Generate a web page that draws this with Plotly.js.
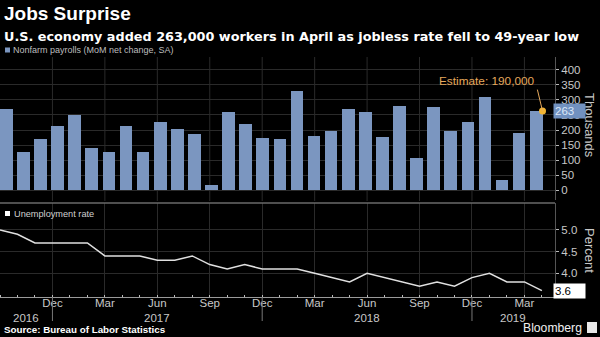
<!DOCTYPE html>
<html><head><meta charset="utf-8">
<script src="https://cdn.plot.ly/plotly-3.0.1.min.js"></script>
<style>html,body{margin:0;padding:0;background:#000;}#chart{width:600px;height:337px;}</style>
</head><body><div id="chart"></div>
<script>
// ---- data ----
const months = ['Sep 2016','Oct 2016','Nov 2016','Dec 2016',
  'Jan 2017','Feb 2017','Mar 2017','Apr 2017','May 2017','Jun 2017','Jul 2017','Aug 2017','Sep 2017','Oct 2017','Nov 2017','Dec 2017',
  'Jan 2018','Feb 2018','Mar 2018','Apr 2018','May 2018','Jun 2018','Jul 2018','Aug 2018','Sep 2018','Oct 2018','Nov 2018','Dec 2018',
  'Jan 2019','Feb 2019','Mar 2019','Apr 2019'];
const payrolls = [269,128,169,214, 251,141,126,212,128,228,202,186,18,259,219,172,
  171,329,181,197,269,261,178,281,108,276,197,226, 311,33,189,263];
const unemployment = [5.0,4.9,4.7,4.7, 4.7,4.7,4.4,4.4,4.4,4.3,4.3,4.4,4.2,4.1,4.2,4.1,
  4.1,4.1,4.0,3.9,3.8,4.0,3.9,3.8,3.7,3.8,3.7,3.9, 4.0,3.8,3.8,3.6];
const quarterTickIdx = [3,6,9,12,15,18,21,24,27,30];
const quarterTickText = ['Dec','Mar','Jun','Sep','Dec','Mar','Jun','Sep','Dec','Mar'];
const yearLabels = ['2016','2017','2018','2019'];
const yearBoundaryIdx = [3,15,27];
const payrollTicks = [0,50,100,150,200,250,300,350,400];
const rateTicks = [4.0,4.5,5.0];
const estimateText = 'Estimate: 190,000';

// ---- layout helpers (pixel -> paper) ----
const L = 0, PW = 555, T = 57, PH = 240;
const px = x => (x - L) / PW;
const py = y => (T + PH - y) / PH;

const idx = months.map((m, i) => i);
const last = idx.length - 1;
const lineMax = 31.75;
const barRange = [-0.3716, 32.10];
const barWidth = 0.74;

const yb = [0].concat(yearBoundaryIdx).concat([lineMax]);
const yearMid = yearLabels.map((y, i) => (yb[i] + yb[i + 1]) / 2);

const font = 'Liberation Sans, Arial, sans-serif';
const tickCol = '#c8c8c8';
const gridCol = '#2a2a2a';

const traces = [
  {type: 'bar', x: idx, y: payrolls, xaxis: 'x', yaxis: 'y', width: barWidth,
   marker: {color: '#7b96c0', line: {width: 0}}, hoverinfo: 'skip'},
  {type: 'scatter', mode: 'markers', x: [last + barWidth / 2], y: [payrolls[last]], xaxis: 'x', yaxis: 'y',
   marker: {color: '#f2b534', size: 7}, hoverinfo: 'skip', cliponaxis: false},
  {type: 'scatter', mode: 'lines', x: idx, y: unemployment, xaxis: 'x2', yaxis: 'y2',
   line: {color: '#e0e0e0', width: 1.5}, hoverinfo: 'skip'}
];

const shapes = [];
quarterTickIdx.forEach(v => shapes.push({type: 'line', xref: 'x2', yref: 'paper', x0: v, x1: v,
  y0: py(201), y1: 1, line: {color: gridCol, width: 1}, layer: 'below'}));
shapes.push({type: 'line', xref: 'paper', yref: 'paper', x0: 0, x1: 1, y0: py(203), y1: py(203),
  line: {color: '#6a6a6a', width: 1.5}});
yearBoundaryIdx.forEach(v => shapes.push({type: 'line', xref: 'x2', yref: 'paper', x0: v, x1: v,
  y0: 0, y1: py(321), line: {color: '#777', width: 1}}));
shapes.push({type: 'rect', xref: 'paper', yref: 'paper', x0: px(5), x1: px(10), y0: py(52.5), y1: py(47.5),
  fillcolor: '#7b96c0', line: {width: 0}});
shapes.push({type: 'rect', xref: 'paper', yref: 'paper', x0: px(5), x1: px(10), y0: py(216), y1: py(211),
  fillcolor: '#ffffff', line: {width: 0}});
shapes.push({type: 'rect', xref: 'paper', yref: 'paper', x0: px(587), x1: px(597), y0: py(333), y1: py(322),
  fillcolor: '#e8e8e8', line: {width: 0}});

const ann = [
  {text: '<b>Jobs Surprise</b>', xref: 'paper', yref: 'paper', x: px(2), y: py(14), xanchor: 'left', yanchor: 'middle',
   showarrow: false, font: {family: font, size: 19, color: '#fff'}},
  {text: '<b>U.S. economy added 263,000 workers in April as jobless rate fell to 49-year low</b>', xref: 'paper', yref: 'paper',
   x: px(2), y: py(36), xanchor: 'left', yanchor: 'middle', showarrow: false, font: {family: 'DejaVu Sans, sans-serif', size: 12.8, color: '#fff'}},
  {text: 'Nonfarm payrolls (MoM net change, SA)', xref: 'paper', yref: 'paper', x: px(11), y: py(50), xanchor: 'left', yanchor: 'middle',
   showarrow: false, font: {family: font, size: 9, color: '#bdbdbd'}},
  {text: 'Unemployment rate', xref: 'paper', yref: 'paper', x: px(12), y: py(213.5), xanchor: 'left', yanchor: 'middle',
   showarrow: false, font: {family: font, size: 9.2, color: '#d0d0d0'}},
  {text: '<b>Source: Bureau of Labor Statistics</b>', xref: 'paper', yref: 'paper', x: px(2), y: py(329), xanchor: 'left', yanchor: 'middle',
   showarrow: false, font: {family: font, size: 9.8, color: '#fff'}},
  {text: 'Bloomberg', xref: 'paper', yref: 'paper', x: px(584), y: py(328), xanchor: 'right', yanchor: 'middle',
   showarrow: false, font: {family: font, size: 12.2, color: '#f0f0f0'}},
  {text: 'Thousands', xref: 'paper', yref: 'paper', x: px(590), y: py(125), xanchor: 'center', yanchor: 'middle', textangle: 90,
   showarrow: false, font: {family: font, size: 13, color: tickCol}},
  {text: 'Percent', xref: 'paper', yref: 'paper', x: px(590), y: py(250), xanchor: 'center', yanchor: 'middle', textangle: 90,
   showarrow: false, font: {family: font, size: 13, color: tickCol}},
  {text: String(payrolls[last]), xref: 'paper', yref: 'y', x: px(553), y: payrolls[last], xanchor: 'left', yanchor: 'middle',
   showarrow: false, width: 29, align: 'left', bgcolor: '#7191c0', borderpad: 1,
   font: {family: font, size: 11.5, color: '#dce8f8'}},
  {text: unemployment[last].toFixed(1), xref: 'paper', yref: 'y2', x: px(553), y: unemployment[last], xanchor: 'left', yanchor: 'middle',
   showarrow: false, width: 29, align: 'left', bgcolor: '#ffffff', borderpad: 1,
   font: {family: font, size: 11.5, color: '#000'}},
  {text: estimateText, xref: 'x', yref: 'y', x: last + barWidth / 2, y: payrolls[last], xanchor: 'right', yanchor: 'middle',
   xshift: -6, yshift: 30, showarrow: false, font: {family: font, size: 11.8, color: '#e6a95c'}},
  {text: '', xref: 'x', yref: 'y', x: last + barWidth / 2, y: payrolls[last], showarrow: true, arrowhead: 0, arrowwidth: 1,
   arrowcolor: '#e6a95c', ax: -5.5, ay: -23, standoff: 0}
];
yearLabels.forEach((t, i) => ann.push({text: t, xref: 'x2', yref: 'paper', x: yearMid[i], y: py(318), xanchor: 'center', yanchor: 'middle',
  showarrow: false, font: {family: font, size: 11.5, color: tickCol}}));

const layout = {
  width: 600, height: 337,
  margin: {l: L, r: 600 - L - PW, t: T, b: 337 - T - PH, pad: 0},
  paper_bgcolor: '#000', plot_bgcolor: '#000',
  showlegend: false, bargap: 0,
  xaxis: {domain: [0, 1], anchor: 'y', range: barRange, showticklabels: false, showgrid: false,
          zeroline: false, showline: false, ticks: ''},
  xaxis2: {domain: [0, 1], anchor: 'y2', range: [0, lineMax], tickmode: 'array', tickvals: quarterTickIdx,
           ticktext: quarterTickText, showgrid: true, gridcolor: gridCol, gridwidth: 1, zeroline: false,
           showline: true, linecolor: '#9a9a9a', linewidth: 1, ticks: '',
           minor: {tickmode: 'linear', tick0: 0, dtick: 1, ticks: 'inside', ticklen: 2, tickcolor: '#bbb', showgrid: false},
           tickfont: {family: font, size: 11.5, color: tickCol}, ticklabelstandoff: -5},
  yaxis: {domain: [py(200), 1], anchor: 'x', side: 'right', range: [-33, 443],
          tickmode: 'array', tickvals: payrollTicks, showgrid: true, gridcolor: gridCol, gridwidth: 1,
          zeroline: false, showline: true, linecolor: '#555', ticks: 'outside', ticklen: 3, tickcolor: '#bbb',
          tickfont: {family: font, size: 11.5, color: tickCol}},
  yaxis2: {domain: [0, py(203)], anchor: 'x2', side: 'right', range: [3.453, 5.62],
           tickmode: 'array', tickvals: rateTicks, tickformat: '.1f', showgrid: true, gridcolor: gridCol, gridwidth: 1,
           zeroline: false, showline: true, linecolor: '#555', ticks: 'outside', ticklen: 3, tickcolor: '#bbb',
           tickfont: {family: font, size: 11.5, color: tickCol}},
  shapes: shapes,
  annotations: ann
};

Plotly.newPlot('chart', traces, layout, {displayModeBar: false, staticPlot: true});
</script>
</body></html>
